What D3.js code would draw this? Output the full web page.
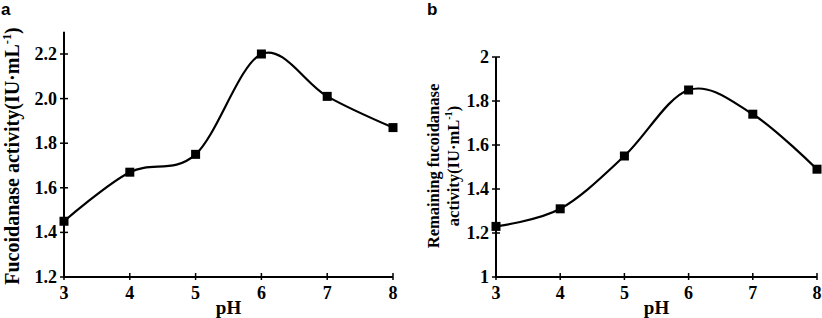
<!DOCTYPE html>
<html>
<head>
<meta charset="utf-8">
<script src="https://d3js.org/d3.v7.min.js"></script>
<style>
  body { margin: 0; background: #fff; }
  text { font-family: "Liberation Serif", "Times New Roman", serif; font-weight: bold; fill: #000; }
</style>
</head>
<body>
<svg id="chart" width="822" height="318"></svg>
<script>
// values
var phValues = [3, 4, 5, 6, 7, 8];
var activityA = [1.45, 1.67, 1.75, 2.20, 2.01, 1.87];
var activityB = [1.23, 1.31, 1.55, 1.85, 1.74, 1.49];
var yTicksA = [1.2, 1.4, 1.6, 1.8, 2.0, 2.2];
var yTicksB = [1, 1.2, 1.4, 1.6, 1.8, 2];

var svg = d3.select("#chart");

function drawPanel(p) {
  var x = d3.scaleLinear().domain([3, 8]).range([p.x0, p.x1]);
  var y = d3.scaleLinear().domain(p.yDomain).range([p.y0, p.y1]);
  var g = svg.append("g");

  // axes lines
  g.append("line").attr("x1", p.x0).attr("x2", p.x1).attr("y1", p.y0).attr("y2", p.y0)
    .attr("stroke", "#000").attr("stroke-width", 2);
  g.append("line").attr("x1", p.x0).attr("x2", p.x0).attr("y1", p.y0 + 1).attr("y2", y(p.yTop))
    .attr("stroke", "#000").attr("stroke-width", 2);

  // x ticks
  phValues.forEach(function(v) {
    g.append("line").attr("x1", x(v)).attr("x2", x(v)).attr("y1", p.y0 - 4).attr("y2", p.y0 + 3)
      .attr("stroke", "#000").attr("stroke-width", 1.5);
    g.append("text").attr("x", x(v)).attr("y", p.y0 + 22).attr("text-anchor", "middle")
      .style("font-size", "18px").text(v);
  });

  // y ticks
  p.yTicks.forEach(function(v) {
    g.append("line").attr("x1", p.x0 - 4).attr("x2", p.x0 + 4).attr("y1", y(v)).attr("y2", y(v))
      .attr("stroke", "#000").attr("stroke-width", 1.5);
    g.append("text").attr("x", p.x0 - 7).attr("y", y(v) + 6).attr("text-anchor", "end")
      .style("font-size", "18px").text(p.fmt(v));
  });

  // smoothed line
  var line = d3.line()
    .x(function(d, i) { return x(phValues[i]); })
    .y(function(d) { return y(d); })
    .curve(d3.curveCardinal.tension(0));
  g.append("path").datum(p.values).attr("d", line)
    .attr("fill", "none").attr("stroke", "#000").attr("stroke-width", 2.2);

  g.selectAll("rect.pt").data(p.values).enter().append("rect")
    .attr("class", "pt")
    .attr("x", function(d, i) { return x(phValues[i]) - 4.5; })
    .attr("y", function(d) { return y(d) - 4.5; })
    .attr("width", 9).attr("height", 9).attr("fill", "#000");

  // x label
  g.append("text").attr("x", (p.x0 + p.x1) / 2).attr("y", p.y0 + 37).attr("text-anchor", "middle")
    .style("font-size", "19px").text("pH");

  // y label lines
  p.yLabel.forEach(function(l) {
    var t = g.append("text")
      .attr("transform", "translate(" + l.x + "," + l.cy + ") rotate(-90)")
      .attr("text-anchor", "middle")
      .style("font-size", l.size + "px");
    t.append("tspan").text(l.text);
    if (l.tail) {
      t.append("tspan").attr("dy", -l.size * 0.4).style("font-size", (l.size * 0.62) + "px").text("-1");
      t.append("tspan").attr("dy", l.size * 0.4).text(l.tail);
    }
  });

  // panel letter
  svg.append("text").attr("x", p.letterX).attr("y", 15)
    .style("font-family", "'Liberation Sans', Arial, sans-serif").style("font-size", "17px")
    .text(p.letter);
}

drawPanel({
  x0: 64, x1: 393, y0: 277, y1: 54, yDomain: [1.2, 2.2], yTop: 2.3,
  yTicks: yTicksA, values: activityA, fmt: d3.format(".1f"),
  yLabel: [{ x: 19, cy: 156, size: 20, text: "Fucoidanase activity(IU·mL", tail: ")" }],
  letter: "a", letterX: 1
});

drawPanel({
  x0: 496, x1: 817, y0: 277, y1: 57, yDomain: [1, 2], yTop: 2,
  yTicks: yTicksB, values: activityB, fmt: function(v) { return String(v); },
  yLabel: [
    { x: 439, cy: 166, size: 16.5, text: "Remaining fucoidanase" },
    { x: 459, cy: 166, size: 16.5, text: "activity(IU·mL", tail: ")" }
  ],
  letter: "b", letterX: 427
});
</script>
</body>
</html>
